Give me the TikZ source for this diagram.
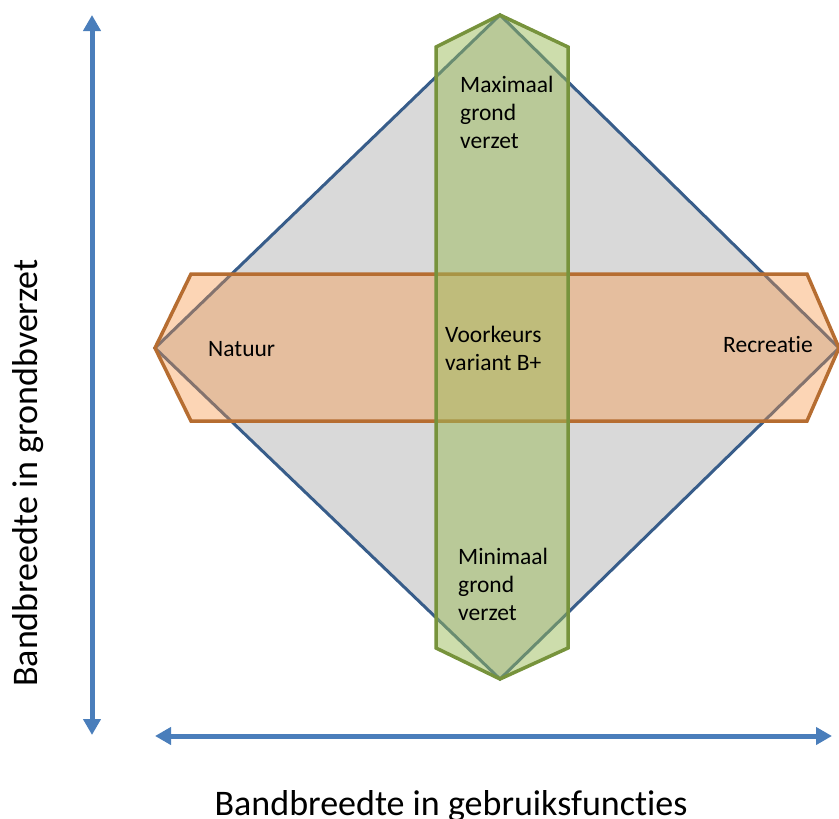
\documentclass[tikz,border=0pt]{standalone}
\usepackage{fontspec}
\setmainfont{Carlito}[Ligatures=NoCommon]
\usetikzlibrary{arrows.meta}
\definecolor{diafill}{HTML}{D9D9D9}
\definecolor{diaborder}{HTML}{385D8A}
\definecolor{orfill}{HTML}{F79646}
\definecolor{orborder}{HTML}{B66D31}
\definecolor{grfill}{HTML}{9BBB59}
\definecolor{grborder}{HTML}{77933C}
\definecolor{axisblue}{HTML}{4A7EBB}
\begin{document}
\begin{tikzpicture}[x=1pt,y=-1pt,
  diamondshape/.style={fill=diafill, draw=diaborder, line width=3pt, line join=miter},
  orangeband/.style={fill=orfill, fill opacity=0.4, draw=orborder, draw opacity=1, line width=3.5pt, line join=miter},
  greenband/.style={fill=grfill, fill opacity=0.5, draw=grborder, draw opacity=1, line width=3.5pt, line join=miter},
  lbl/.style={inner sep=0pt, align=left, font=\fontsize{23.5}{28}\selectfont, text=black},
  axlbl/.style={inner sep=0pt, font=\fontsize{36}{42}\selectfont, text=black},
  axisarrow/.style={draw=axisblue, line width=5pt,
    {Triangle[width=17pt,length=16pt]}-{Triangle[width=17pt,length=16pt]}}
]
\useasboundingbox (0,0) rectangle (839,819);
% diamond
\coordinate (dT) at (500,15);
\coordinate (dR) at (839,348);
\coordinate (dB) at (500,679);
\coordinate (dL) at (155,348);
\draw[diamondshape] (dT) -- (dR) -- (dB) -- (dL) -- cycle;
% orange band
\coordinate (oTL) at (191,274);
\coordinate (oTR) at (807,274);
\coordinate (oBR) at (807,421);
\coordinate (oBL) at (191,421);
\draw[orangeband] (dL) -- (oTL) -- (oTR) -- (dR) -- (oBR) -- (oBL) -- cycle;
% green band
\coordinate (gTL) at (436,47);
\coordinate (gTR) at (568,47);
\coordinate (gBR) at (568,648);
\coordinate (gBL) at (436,648);
\draw[greenband] (dT) -- (gTR) -- (gBR) -- (dB) -- (gBL) -- (gTL) -- cycle;
% labels (base = baseline of last line)
\node[lbl, anchor=base west] (max) at (460,148) {Maximaal\\grond\\verzet};
\node[lbl, anchor=base west] (voor) at (445,370) {Voorkeurs\\variant B+};
\node[lbl, anchor=base west] (nat) at (208,356) {Natuur};
\node[lbl, anchor=base west] (rec) at (723,352) {Recreatie};
\node[lbl, anchor=base west] (min) at (458,620) {Minimaal\\grond\\verzet};
% axes
\coordinate (vTop) at (92,15);
\coordinate (vBot) at (92,735);
\coordinate (hL) at (155,736);
\coordinate (hR) at (832,736);
\draw[axisarrow] (vBot) -- (vTop);
\draw[axisarrow] (hL) -- (hR);
\node[axlbl, anchor=base] (xl) at (451,815) {Bandbreedte in gebruiksfuncties};
\node[axlbl, rotate=90, anchor=base] (yl) at (37,473) {Bandbreedte in grondbverzet};
\end{tikzpicture}
\end{document}
